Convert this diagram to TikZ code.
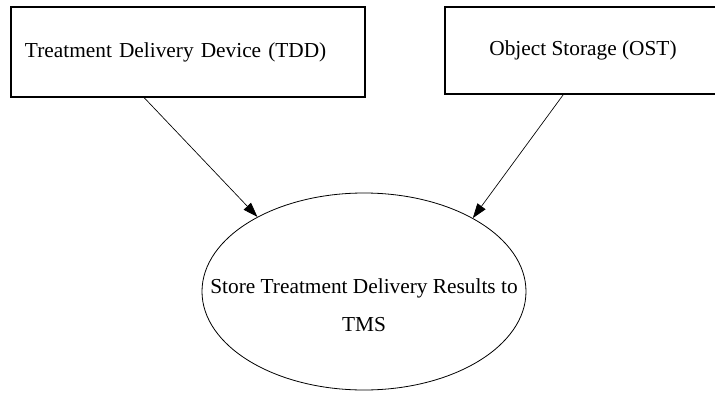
\documentclass[tikz,border=0pt]{standalone}
\usepackage{fontspec}
\setmainfont{Liberation Serif}
\usetikzlibrary{arrows.meta,shapes.geometric}
\tikzset{
	sourcebox/.style={draw, rectangle, line width=0.8pt, inner sep=0pt},
	processnode/.style={draw, ellipse, line width=0.6pt, inner sep=0pt},
	flow/.style={-{Triangle[length=11pt,width=7.5pt]}, line width=0.5pt}
}

\begin{document}
\begin{tikzpicture}[x=0.75pt,y=-0.75pt,font=\fontsize{16}{19}\selectfont]
			\useasboundingbox (0,0) rectangle (715,393);

			% Sources
			\node[sourcebox, minimum width=265.5pt, minimum height=67.5pt,
				text width=244.5pt, align=left] (tdd) at (188,52) {Treatment Delivery Device (TDD)};
			\node[sourcebox, minimum width=207pt, minimum height=65.25pt] (ost) at (583,50.5) {Object Storage (OST)};

			% Process
			\node[processnode, minimum width=243pt, minimum height=147.75pt] (store) at (364,291.5) {};
			\node[align=center, font=\fontsize{16}{28.5}\selectfont] (storetext) at (364,305) {Store Treatment Delivery Results to\\TMS};

			% Flows
			\draw[flow] (tdd.-134.4) -- (store.145.3);
			\draw[flow] (ost.-114.7) -- (store.34.2);
		\end{tikzpicture}
\end{document}
